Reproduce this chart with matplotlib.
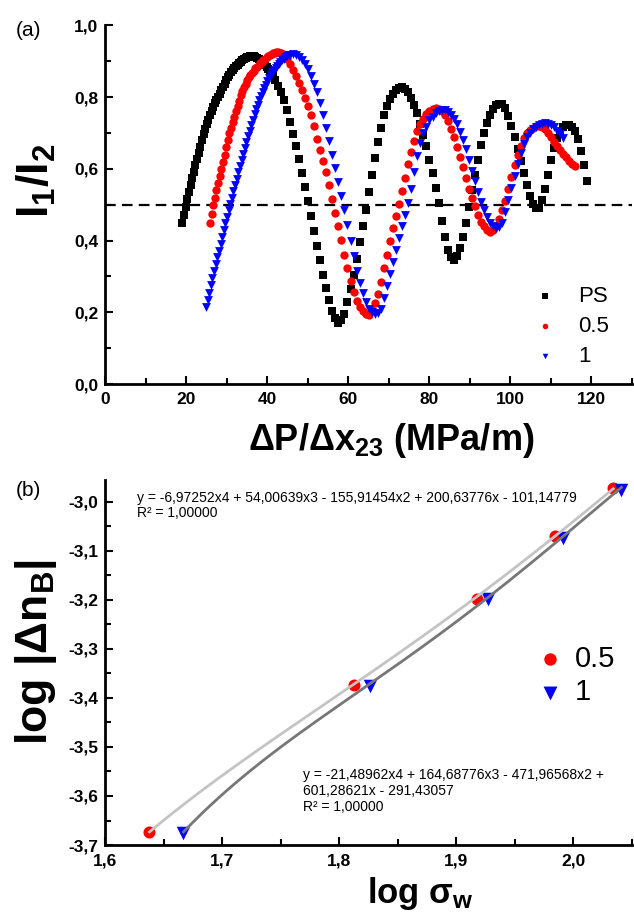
import matplotlib
matplotlib.use('Agg')
import matplotlib.pyplot as plt
import numpy as np
from matplotlib.ticker import MultipleLocator, FixedLocator, FixedFormatter

plt.rcParams['font.family'] = ['Liberation Sans', 'DejaVu Sans']
plt.rcParams['mathtext.fontset'] = 'custom'
plt.rcParams['mathtext.rm'] = 'Liberation Sans'
plt.rcParams['mathtext.bf'] = 'Liberation Sans:bold'
plt.rcParams['mathtext.it'] = 'Liberation Sans:italic'

# (a) intensity ratio vs pressure gradient
ps_x = [19.0, 19.4, 19.8, 20.2, 20.6, 21.0, 21.4, 21.8, 22.2, 22.6,
        23.0, 23.4, 23.8, 24.2, 24.6, 25.0, 25.4, 25.8, 26.2, 26.6,
        27.0, 27.4, 27.8, 28.2, 28.6, 29.0, 29.4, 29.8, 30.2, 30.6,
        31.0, 31.4, 31.8, 32.2, 32.6, 33.0, 33.4, 33.8, 34.2, 34.6,
        35.0, 35.4, 35.8, 36.2, 36.6, 37.0, 37.4, 37.8, 38.2, 38.6,
        39.0, 39.4, 39.8, 40.2, 40.6, 41.0, 41.4, 41.8,
        42.5, 43.25, 44.0, 44.75, 45.5, 46.25, 47.0, 47.75, 48.5, 49.25,
        50.0, 50.75, 51.5, 52.25, 53.0, 53.75, 54.5, 55.25, 56.0, 56.75,
        57.5, 58.25, 59.0, 59.75, 60.5, 61.25, 62.0, 62.75, 63.5, 64.25,
        65.0, 65.75, 66.5, 67.25, 68.0, 68.75, 69.5, 70.25, 71.0, 71.75,
        72.5, 73.25, 74.0, 74.75, 75.5, 76.25, 77.0, 77.75, 78.5, 79.25,
        80.0, 80.75, 81.5, 82.25, 83.0, 83.75, 84.5, 85.25, 86.0, 86.75,
        87.5, 88.25, 89.0, 89.75, 90.5, 91.25, 92.0, 92.75, 93.5, 94.25,
        95.0, 95.75, 96.5, 97.25, 98.0, 98.75, 99.5, 100.25, 101.0, 101.75,
        102.5, 103.25, 104.0, 104.75, 105.5, 106.25, 107.0, 107.75, 108.5, 109.25,
        110.0, 110.75, 111.5, 112.25, 113.0, 113.75, 114.5, 115.25, 116.0, 116.75,
        117.5, 118.25, 119.0]
ps_y = [0.450, 0.470, 0.495, 0.515, 0.535, 0.555, 0.575, 0.592, 0.610, 0.628,
        0.645, 0.662, 0.680, 0.697, 0.710, 0.724, 0.737, 0.750, 0.762, 0.773,
        0.783, 0.792, 0.800, 0.810, 0.820, 0.829, 0.838, 0.847, 0.855, 0.862,
        0.869, 0.875, 0.881, 0.886, 0.891, 0.895, 0.899, 0.903, 0.906, 0.909,
        0.911, 0.913, 0.914, 0.915, 0.914, 0.912, 0.909, 0.906, 0.903, 0.899,
        0.895, 0.890, 0.885, 0.879, 0.872, 0.866, 0.858, 0.849,
        0.832, 0.813, 0.792, 0.764, 0.732, 0.698, 0.663, 0.627, 0.589, 0.550,
        0.510, 0.469, 0.428, 0.386, 0.345, 0.305, 0.269, 0.235, 0.205, 0.185,
        0.170, 0.178, 0.195, 0.229, 0.265, 0.305, 0.350, 0.395, 0.440, 0.486,
        0.535, 0.584, 0.630, 0.674, 0.715, 0.749, 0.775, 0.795, 0.810, 0.820,
        0.826, 0.827, 0.824, 0.814, 0.798, 0.778, 0.755, 0.725, 0.695, 0.663,
        0.625, 0.588, 0.548, 0.504, 0.455, 0.410, 0.375, 0.353, 0.345, 0.356,
        0.378, 0.409, 0.450, 0.495, 0.540, 0.584, 0.625, 0.666, 0.700, 0.728,
        0.750, 0.767, 0.777, 0.782, 0.780, 0.769, 0.748, 0.720, 0.690, 0.656,
        0.623, 0.589, 0.555, 0.525, 0.503, 0.490, 0.490, 0.513, 0.545, 0.584,
        0.625, 0.659, 0.685, 0.704, 0.717, 0.722, 0.723, 0.718, 0.705, 0.683,
        0.650, 0.610, 0.565]

c05_x = [25.8, 26.2, 26.6, 27.0, 27.4, 27.8, 28.2, 28.6, 29.0, 29.4,
         29.8, 30.2, 30.6, 31.0, 31.4, 31.8, 32.2, 32.6, 33.0, 33.4,
         33.8, 34.2, 34.6, 35.0, 35.4, 35.8, 36.2, 36.6, 37.0, 37.4,
         37.8, 38.2, 38.6, 39.0, 39.4, 39.8, 40.2, 40.6, 41.0, 41.4,
         41.8, 42.2, 42.6, 43.0, 43.4, 43.8,
         44.75, 45.5, 46.25, 47.0, 47.75, 48.5, 49.25, 50.0, 50.75, 51.5,
         52.25, 53.0, 53.75, 54.5, 55.25, 56.0, 56.75, 57.5, 58.25, 59.0,
         59.75, 60.5, 61.25, 62.0, 62.75, 63.5, 64.25, 65.0, 65.75, 66.5,
         67.25, 68.0, 68.75, 69.5, 70.25, 71.0, 71.75, 72.5, 73.25, 74.0,
         74.75, 75.5, 76.25, 77.0, 77.75, 78.5, 79.25, 80.0, 80.75, 81.5,
         82.25, 83.0, 83.75, 84.5, 85.25, 86.0, 86.75, 87.5, 88.25, 89.0,
         89.75, 90.5, 91.25, 92.0, 92.75, 93.5, 94.25, 95.0, 95.75, 96.5,
         97.25, 98.0, 98.75, 99.5, 100.25, 101.0, 101.75, 102.5, 103.25, 104.0,
         104.75, 105.5, 106.25, 107.0, 107.75, 108.5, 109.25, 110.0, 110.75, 111.5,
         112.25, 113.0, 113.75, 114.5, 115.25, 116.0]
c05_y = [0.448, 0.475, 0.500, 0.520, 0.540, 0.560, 0.580, 0.600, 0.620, 0.640,
         0.660, 0.680, 0.699, 0.715, 0.731, 0.746, 0.761, 0.776, 0.790, 0.806,
         0.817, 0.828, 0.838, 0.847, 0.855, 0.862, 0.868, 0.874, 0.880, 0.885,
         0.890, 0.895, 0.899, 0.903, 0.907, 0.911, 0.914, 0.917, 0.920, 0.922,
         0.924, 0.925, 0.925, 0.924, 0.922, 0.919,
         0.906, 0.892, 0.875, 0.858, 0.839, 0.819, 0.798, 0.775, 0.751, 0.719,
         0.684, 0.652, 0.622, 0.590, 0.555, 0.515, 0.478, 0.440, 0.401, 0.360,
         0.323, 0.288, 0.257, 0.232, 0.216, 0.203, 0.195, 0.193, 0.206, 0.225,
         0.251, 0.285, 0.324, 0.361, 0.398, 0.435, 0.469, 0.503, 0.538, 0.575,
         0.613, 0.648, 0.679, 0.705, 0.724, 0.740, 0.753, 0.762, 0.767, 0.769,
         0.767, 0.762, 0.749, 0.733, 0.712, 0.688, 0.660, 0.633, 0.605, 0.575,
         0.545, 0.520, 0.497, 0.472, 0.453, 0.440, 0.430, 0.425, 0.429, 0.440,
         0.459, 0.485, 0.511, 0.543, 0.576, 0.610, 0.640, 0.665, 0.685, 0.700,
         0.709, 0.715, 0.719, 0.720, 0.717, 0.711, 0.701, 0.688, 0.676, 0.665,
         0.654, 0.642, 0.632, 0.622, 0.614, 0.607]

c1_x = [24.8, 25.2, 25.6, 26.0, 26.4, 26.8, 27.2, 27.6, 28.0, 28.4,
        28.8, 29.2, 29.6, 30.0, 30.4, 30.8, 31.2, 31.6, 32.0, 32.4,
        32.8, 33.2, 33.6, 34.0, 34.4, 34.8, 35.2, 35.6, 36.0, 36.4,
        36.8, 37.2, 37.6, 38.0, 38.4, 38.8, 39.2, 39.6, 40.0, 40.4,
        40.8, 41.2, 41.6, 42.0, 42.4, 42.8, 43.2, 43.6, 44.0, 44.4,
        44.8, 45.2, 45.6,
        46.25, 47.0, 47.75, 48.5, 49.25, 50.0, 50.75, 51.5, 52.25, 53.0,
        53.75, 54.5, 55.25, 56.0, 56.75, 57.5, 58.25, 59.0, 59.75, 60.5,
        61.25, 62.0, 62.75, 63.5, 64.25, 65.0, 65.75, 66.5, 67.25, 68.0,
        68.75, 69.5, 70.25, 71.0, 71.75, 72.5, 73.25, 74.0, 74.75, 75.5,
        76.25, 77.0, 77.75, 78.5, 79.25, 80.0, 80.75, 81.5, 82.25, 83.0,
        83.75, 84.5, 85.25, 86.0, 86.75, 87.5, 88.25, 89.0, 89.75, 90.5,
        91.25, 92.0, 92.75, 93.5, 94.25, 95.0, 95.75, 96.5, 97.25, 98.0,
        98.75, 99.5, 100.25, 101.0, 101.75, 102.5, 103.25, 104.0, 104.75, 105.5,
        106.25, 107.0, 107.75, 108.5, 109.25, 110.0, 110.75, 111.5, 112.25, 113.0]
c1_y = [0.216, 0.235, 0.255, 0.275, 0.295, 0.315, 0.334, 0.353, 0.372, 0.391,
        0.410, 0.429, 0.448, 0.466, 0.484, 0.502, 0.520, 0.538, 0.556, 0.573,
        0.590, 0.607, 0.624, 0.641, 0.658, 0.675, 0.691, 0.707, 0.722, 0.737,
        0.752, 0.766, 0.779, 0.791, 0.803, 0.814, 0.825, 0.835, 0.845, 0.854,
        0.862, 0.869, 0.876, 0.882, 0.888, 0.893, 0.898, 0.903, 0.907, 0.911,
        0.914, 0.917, 0.918,
        0.919, 0.917, 0.911, 0.903, 0.892, 0.878, 0.859, 0.837, 0.813, 0.785,
        0.751, 0.715, 0.678, 0.640, 0.603, 0.563, 0.523, 0.485, 0.444, 0.400,
        0.356, 0.315, 0.281, 0.253, 0.229, 0.210, 0.200, 0.195, 0.197, 0.210,
        0.240, 0.273, 0.306, 0.340, 0.374, 0.408, 0.440, 0.470, 0.504, 0.545,
        0.590, 0.635, 0.673, 0.699, 0.718, 0.735, 0.746, 0.755, 0.761, 0.764,
        0.763, 0.759, 0.751, 0.740, 0.724, 0.704, 0.681, 0.655, 0.625, 0.595,
        0.565, 0.535, 0.509, 0.485, 0.465, 0.448, 0.440, 0.436, 0.438, 0.450,
        0.480, 0.513, 0.546, 0.580, 0.614, 0.643, 0.668, 0.690, 0.701, 0.711,
        0.718, 0.723, 0.726, 0.727, 0.726, 0.722, 0.716, 0.707, 0.696, 0.685]

# (b) log birefringence vs log stress
b05_x = [1.638, 1.813, 1.918, 1.984, 2.034]
b05_y = [-3.673, -3.373, -3.197, -3.070, -2.972]
b1_x = [1.667, 1.826, 1.927, 1.991, 2.041]
b1_y = [-3.675, -3.376, -3.199, -3.074, -2.975]

# 4th order polynomial fits (highest power first)
fit05 = [-6.97252, 54.00639, -155.91454, 200.63776, -101.14779]
fit1 = [-21.48962, 164.68776, -471.96568, 601.28621, -291.43057]

a_xticks = [0, 20, 40, 60, 80, 100, 120]
a_xlabels = ['0', '20', '40', '60', '80', '100', '120']
a_yticks = [0.0, 0.2, 0.4, 0.6, 0.8, 1.0]
a_ylabels = ['0,0', '0,2', '0,4', '0,6', '0,8', '1,0']
b_xticks = [1.6, 1.7, 1.8, 1.9, 2.0]
b_xlabels = ['1,6', '1,7', '1,8', '1,9', '2,0']
b_yticks = [-3.7, -3.6, -3.5, -3.4, -3.3, -3.2, -3.1, -3.0]
b_ylabels = ['-3,7', '-3,6', '-3,5', '-3,4', '-3,3', '-3,2', '-3,1', '-3,0']


def style_axes(ax):
    for side in ['top', 'right']:
        ax.spines[side].set_visible(False)
    for side in ['left', 'bottom']:
        ax.spines[side].set_linewidth(2.0)
    ax.tick_params(which='both', direction='in', width=1.5)
    ax.tick_params(which='major', length=6)
    ax.tick_params(which='minor', length=4)
    ax.tick_params(axis='x', pad=6)
    ax.tick_params(axis='y', pad=5)
    for lab in ax.get_xticklabels() + ax.get_yticklabels():
        lab.set_fontsize(12.5)
        lab.set_fontweight('bold')


fig = plt.figure(figsize=(6.34, 9.15), dpi=100)

# ---- panel (a)
ax1 = fig.add_axes([0.1664, 0.5803, 0.8304, 0.3919])
ax1.axhline(0.5, color='black', lw=1.6, ls=(0, (4.8, 2.8)), zorder=1)
ax1.scatter(ps_x, ps_y, marker='s', s=26, color='black', linewidths=0, label='PS', zorder=2)
ax1.scatter(c05_x, c05_y, marker='o', s=36, color='red', linewidths=0, label='0.5', zorder=3)
ax1.scatter(c1_x, c1_y, marker='v', s=40, color='blue', linewidths=0, label='1', zorder=4)
ax1.set_xlim(0, 130)
ax1.set_ylim(0, 1.0)
ax1.xaxis.set_major_locator(FixedLocator(a_xticks))
ax1.xaxis.set_major_formatter(FixedFormatter(a_xlabels))
ax1.xaxis.set_minor_locator(MultipleLocator(10))
ax1.yaxis.set_major_locator(FixedLocator(a_yticks))
ax1.yaxis.set_major_formatter(FixedFormatter(a_ylabels))
ax1.yaxis.set_minor_locator(MultipleLocator(0.1))
style_axes(ax1)
leg1 = ax1.legend(loc='upper left', bbox_to_anchor=(0.842, 1 - 286 / 915), bbox_transform=fig.transFigure,
                  frameon=False, fontsize=16, scatterpoints=1, handlelength=1.0,
                  handletextpad=1.0, labelspacing=0.4, borderpad=0, borderaxespad=0)
for h in leg1.legend_handles:
    h.set_sizes([16])

fig.text(36 / 634, 1 - 181 / 915, r'$\mathbf{I_1/I_2}$', rotation=90,
         ha='center', va='center', fontsize=32)
fig.text(391 / 634, 1 - 441 / 915, r'$\mathbf{\Delta P/\Delta x_{23}\ (MPa/m)}$',
         ha='center', va='center', fontsize=26)
fig.text(28 / 634, 1 - 30 / 915, '(a)', ha='center', va='center', fontsize=15)

# ---- panel (b)
ax2 = fig.add_axes([0.1656, 0.0765, 0.8312, 0.399])
ax2.scatter(b05_x, b05_y, marker='o', s=75, color='red', linewidths=0, label='0.5', zorder=2)
ax2.scatter(b1_x, b1_y, marker='v', s=95, color='blue', linewidths=0, label='1', zorder=2)
xf05 = np.linspace(b05_x[0], b05_x[-1], 200)
xf1 = np.linspace(b1_x[0], b1_x[-1], 200)
ax2.plot(xf05, np.polyval(fit05, xf05), color='#c4c4c4', lw=2.0, zorder=3)
ax2.plot(xf1, np.polyval(fit1, xf1), color='#777777', lw=2.0, zorder=3)
ax2.set_xlim(1.6, 2.05)
ax2.set_ylim(-3.7, -2.955)
ax2.xaxis.set_major_locator(FixedLocator(b_xticks))
ax2.xaxis.set_major_formatter(FixedFormatter(b_xlabels))
ax2.xaxis.set_minor_locator(MultipleLocator(0.05))
ax2.yaxis.set_major_locator(FixedLocator(b_yticks))
ax2.yaxis.set_major_formatter(FixedFormatter(b_ylabels))
ax2.yaxis.set_minor_locator(MultipleLocator(0.05))
style_axes(ax2)
leg2 = ax2.legend(loc='upper left', bbox_to_anchor=(538 / 634, 1 - 645 / 915), bbox_transform=fig.transFigure,
                  frameon=False, fontsize=21, scatterpoints=1, handlelength=0.8,
                  handletextpad=0.45, labelspacing=0.18, borderpad=0, borderaxespad=0)
leg2.legend_handles[0].set_sizes([80])
leg2.legend_handles[1].set_sizes([100])

ax2.text(0.061, 0.971, 'y = -6,97252x4 + 54,00639x3 - 155,91454x2 + 200,63776x - 101,14779\nR² = 1,00000',
         transform=ax2.transAxes, fontsize=10, va='top', ha='left', linespacing=1.15)
ax2.text(0.376, 0.21, 'y = -21,48962x4 + 164,68776x3 - 471,96568x2 +\n601,28621x - 291,43057\nR² = 1,00000',
         transform=ax2.transAxes, fontsize=10, va='top', ha='left', linespacing=1.15)

fig.text(36 / 634, 1 - 652 / 915, r'$\mathbf{log\ |\Delta n_B|}$', rotation=90,
         ha='center', va='center', fontsize=32)
fig.text(420 / 634, 1 - 893 / 915, r'$\mathbf{log\ \sigma_w}$',
         ha='center', va='center', fontsize=25)
fig.text(28 / 634, 1 - 490 / 915, '(b)', ha='center', va='center', fontsize=15)

fig.savefig('out.png', dpi=100)
